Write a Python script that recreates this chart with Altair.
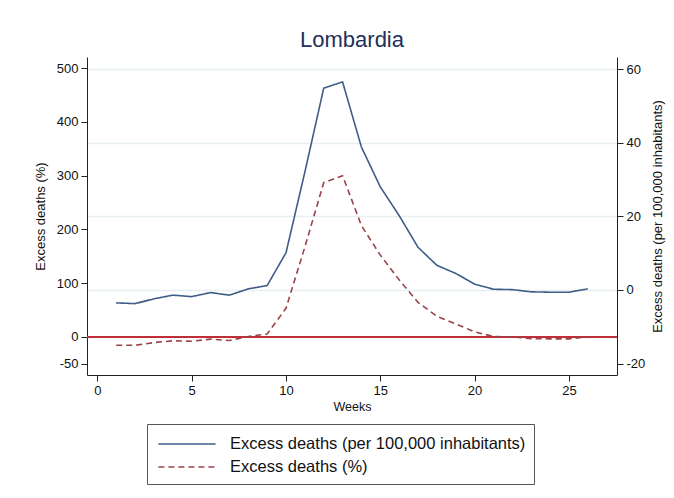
import altair as alt
import pandas as pd

weeks = list(range(1, 27))
per100k = [-3.5, -3.7, -2.4, -1.4, -1.8, -0.7, -1.4, 0.3, 1.2, 10.1, 32.0, 54.8, 56.5,
           38.8, 28.0, 20.2, 11.6, 6.7, 4.5, 1.6, 0.2, 0.1, -0.5, -0.6, -0.6, 0.3]
pct = [-16, -16, -11, -7.5, -8.5, -4.5, -7, 0.5, 5, 53, 167, 287, 300,
       207, 152, 106, 64, 38, 24, 9, 0.5, -0.5, -3.5, -4, -4, 0]

S1 = "Excess deaths (per 100,000 inhabitants)"
S2 = "Excess deaths (%)"
series_names = [S1, S2]
left_ticks = [-50, 0, 100, 200, 300, 400, 500]
right_ticks = [-20, 0, 20, 40, 60]
x_ticks = [0, 5, 10, 15, 20, 25]

df1 = pd.DataFrame({"week": weeks, "value": per100k, "series": S1})
df2 = pd.DataFrame({"week": weeks, "value": pct, "series": S2})

FONT = "Liberation Sans"
NAVY = "#3f5d87"
MAROON = "#9a4248"
RED = "#be2f38"

xenc = alt.X("week:Q",
             scale=alt.Scale(domain=[-0.55, 27.55], nice=False, zero=False),
             axis=alt.Axis(values=x_ticks, title="Weeks", grid=False,
                           labelExpr="datum.value + ''", titlePadding=3,
                           titleFontSize=12.5))

color = alt.Color("series:N",
                  scale=alt.Scale(domain=series_names, range=[NAVY, MAROON]),
                  legend=alt.Legend(title=None, orient="none", legendX=60, legendY=367,
                                    symbolType="M-2.6,0H2.6", symbolSize=484,
                                    symbolStrokeWidth=1.5, symbolOffset=20,
                                    labelFontSize=16.5,
                                    labelFont=FONT, labelColor="#111",
                                    strokeColor="#555", padding=8, rowPadding=2,
                                    labelOffset=31, labelLimit=500))
dash = alt.StrokeDash("series:N",
                      scale=alt.Scale(domain=series_names, range=[[1, 0], [6, 4]]),
                      legend=None)

left_y = alt.Scale(domain=[-71.3, 521.0], nice=False, zero=False)
right_y = alt.Scale(domain=[-23.08, 63.26], nice=False, zero=False)

zero_rule = alt.Chart(df2).mark_rule(color=RED, strokeWidth=1.3).encode(
    y=alt.datum(0, scale=left_y)
)

dashed = alt.Chart(df2).mark_line(strokeWidth=1.6).encode(
    x=xenc,
    y=alt.Y("value:Q", scale=left_y,
            axis=alt.Axis(orient="left", values=left_ticks, title=S2, grid=False,
                          labelExpr="datum.value + ''", titlePadding=9)),
    color=color,
    strokeDash=dash,
)

solid = alt.Chart(df1).mark_line(strokeWidth=1.6).encode(
    x=xenc,
    y=alt.Y("value:Q", scale=right_y,
            axis=alt.Axis(orient="right", values=right_ticks, title=S1, grid=True,
                          gridColor="#e6eff1", gridWidth=1.5,
                          gridOpacity={"condition": {"test": "datum.value < -10", "value": 0}, "value": 1},
                          labelExpr="datum.value + ''", titleAngle=270,
                          titleBaseline="top", titlePadding=7)),
    color=color,
    strokeDash=dash,
)

left_group = alt.layer(zero_rule, dashed)
chart = alt.layer(left_group, solid).resolve_scale(y="independent").properties(
    width=530, height=318,
    background="white",
    autosize=alt.AutoSizeParams(type="none"),
    padding={"left": 79, "top": 49, "right": 49, "bottom": 114},
    title=alt.TitleParams("Lombardia", fontSize=22, color="#23305a", font=FONT,
                          fontWeight="normal", offset=5, anchor="middle"),
).configure_view(stroke=None).configure_axis(
    labelFont=FONT, titleFont=FONT, labelFontSize=13, titleFontSize=13,
    titleFontWeight="normal", labelColor="#111", titleColor="#111",
    domainColor="#222", tickColor="#222", tickSize=6, labelPadding=3,
    domainWidth=1, tickWidth=1,
)

chart.save("out.html", embed_options={"renderer": "svg", "actions": False})
